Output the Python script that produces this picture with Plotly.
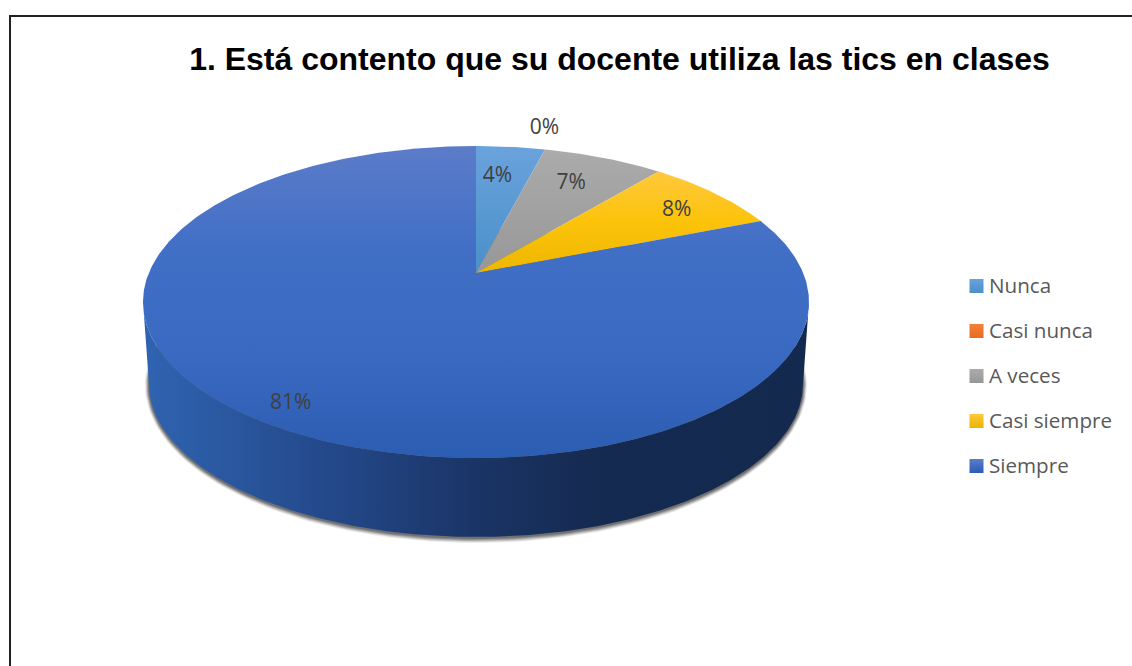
import numpy as np
import plotly.graph_objects as go

# Survey answers, in percent
categories = ["Nunca", "Casi nunca", "A veces", "Casi siempre", "Siempre"]
percentages = [4, 0, 7, 8, 81]
title_text = "1. Está contento que su docente utiliza las tics en clases"

# Drawing styles
SWATCH_TOP = ["#6aa2dc", "#f4803a", "#ababab", "#ffc83c", "#5c7cc9"]
SWATCH_BOTTOM = ["#4a90c9", "#e86c1e", "#979797", "#e9b400", "#2b5db2"]
GRADIENTS = [
    ["#6aa2dc", "#4a90c9"],
    ["#f4803a", "#e86c1e"],
    ["#ababab", "#979797"],
    ["#ffc83c", "#fcc30a", "#edb600"],
    ["#5c7cc9", "#416fc6", "#3a69c1", "#2b5db2"],
]
LABEL_RADII = [0.76, 1.22, 0.76, 0.80, 0.885]
LABEL_NUDGE = [(-6, 3), (-13, 2), (-5, 1), (6, 3), (3, 3)]

# Disc geometry on a pixel-sized axis: a circle seen in perspective
CX, CY = 476.0, 273.0
A, B, K = 150.6, 327.2, 0.186
TOP_ELLIPSE = (476.0, 302.0, 333.0, 156.0)
BOTTOM_ELLIPSE = (476.0, 384.0, 327.0, 153.0)

# Key column beside the disc
KEY_SWATCH_X, KEY_TEXT_X = 976.5, 989.0
KEY_FIRST_Y, KEY_STEP_Y, KEY_TEXT_DROP = 286.0, 45.0, 1.5


def project(theta, r=1.0):
    """Clockwise angle from twelve o'clock to axis coordinates on the tilted disc."""
    u, v = r * np.sin(theta), r * np.cos(theta)
    d = 1 + K * v
    return CX + B * u / d, CY - A * v / d


def ellipse(shape, t):
    cx, cy, rx, ry = shape
    return cx + rx * np.cos(t), cy + ry * np.sin(t)


def ramp(colors):
    return [[i / (len(colors) - 1), c] for i, c in enumerate(colors)]


fig = go.Figure()

# Soft drop shadow under the wall
for grow, alpha in zip([5, 4, 3, 2, 1], [0.10, 0.16, 0.22, 0.28, 0.34]):
    cx, cy, rx, ry = BOTTOM_ELLIPSE
    x, y = ellipse((cx, cy + 1, rx + grow * 0.8, ry + grow), np.linspace(0, 2 * np.pi, 240))
    fig.add_trace(go.Scatter(x=x, y=y, mode="lines", fill="toself", line=dict(width=0),
                             fillcolor=f"rgba(60,60,60,{alpha})", hoverinfo="skip", showlegend=False))

# Wall of the disc: lower rim back along the upper rim
t = np.linspace(0, np.pi, 240)
bx, by = ellipse(BOTTOM_ELLIPSE, t)
tx, ty = ellipse(TOP_ELLIPSE, t[::-1])
fig.add_trace(go.Scatter(
    x=np.r_[bx, tx], y=np.r_[by, ty], mode="lines", fill="toself", line=dict(width=0),
    fillgradient=dict(type="horizontal", start=148, stop=810,
                      colorscale=[[0, "#2f63b0"], [0.27, "#24498b"], [0.5, "#1a3465"],
                                  [0.68, "#152a50"], [1, "#14294e"]]),
    hoverinfo="skip", showlegend=False))

# Slices of the top face, computed from the percentages
edges = np.r_[0, np.cumsum(percentages)] / sum(percentages) * 2 * np.pi
for i, name in enumerate(categories):
    if percentages[i] == 0:
        continue
    theta = np.linspace(edges[i], edges[i + 1], max(3, int(percentages[i] * 6)))
    x, y = project(theta)
    xs, ys = np.r_[CX, x, CX], np.r_[CY, y, CY]
    fig.add_trace(go.Scatter(
        x=xs, y=ys, mode="lines", fill="toself", line=dict(width=0),
        fillgradient=dict(type="vertical", start=float(ys.min()), stop=float(ys.max()),
                          colorscale=ramp(GRADIENTS[i])),
        name=name, hoverinfo="skip", showlegend=False))

# Percentage labels
mids = (edges[:-1] + edges[1:]) / 2
lx, ly = project(mids, np.array(LABEL_RADII))
fig.add_trace(go.Scatter(
    x=lx + np.array([n[0] for n in LABEL_NUDGE]), y=ly + np.array([n[1] for n in LABEL_NUDGE]),
    mode="text", text=[f"{p}%" for p in percentages], textposition="middle center",
    textfont=dict(family="Open Sans", size=21, color="#404040"),
    hoverinfo="skip", showlegend=False))

# Key: gradient swatch and category name on each row
key_y = KEY_FIRST_Y + KEY_STEP_Y * np.arange(len(categories))
fig.add_trace(go.Scatter(
    x=[KEY_SWATCH_X] * len(categories), y=key_y, mode="markers",
    marker=dict(symbol="square", size=14, color=SWATCH_TOP, line=dict(width=0),
                gradient=dict(type="vertical", color=SWATCH_BOTTOM)),
    hovertext=categories, hoverinfo="text", showlegend=False))
fig.add_trace(go.Scatter(
    x=[KEY_TEXT_X] * len(categories), y=key_y + KEY_TEXT_DROP, mode="text", text=categories,
    textposition="middle right",
    textfont=dict(family="Open Sans", size=20.6, color="#595959"),
    hoverinfo="skip", showlegend=False))

fig.update_layout(
    width=1132, height=666, margin=dict(l=0, r=0, t=0, b=0),
    paper_bgcolor="white", plot_bgcolor="white", showlegend=False,
    title=dict(text=f"<b>{title_text}</b>", x=619.5 / 1132, xanchor="center",
               y=1 - 59 / 666, yanchor="middle",
               font=dict(family="Liberation Sans", size=32, color="black")),
    xaxis=dict(range=[0, 1132], visible=False, fixedrange=True),
    yaxis=dict(range=[666, 0], visible=False, fixedrange=True),
    shapes=[dict(type="rect", xref="x", yref="y", x0=10, y0=16, x1=1145, y1=690,
                 line=dict(color="#222222", width=2))],
)

fig.write_html("out.html")
